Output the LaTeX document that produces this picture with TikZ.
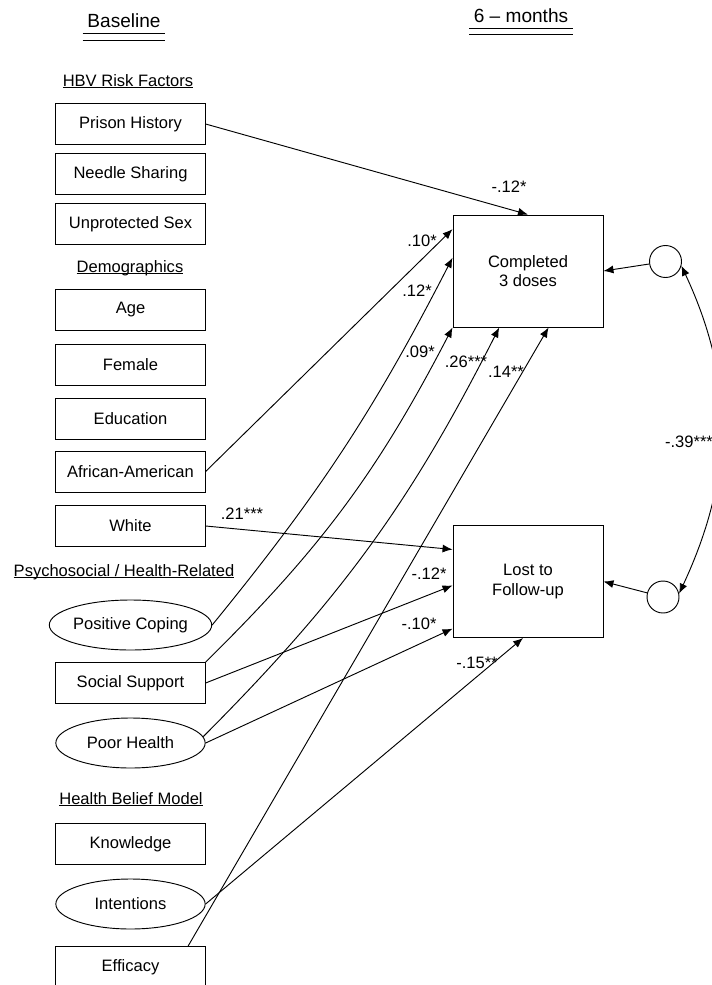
\documentclass[tikz,border=0pt]{standalone}
\usepackage{fontspec}
\setmainfont{Liberation Sans}
\usetikzlibrary{arrows.meta,shapes.geometric}
\newcommand{\sectul}[1]{\setbox0\hbox{#1}\rlap{\rule[-1.6pt]{\wd0}{0.6pt}}\box0}
\begin{document}
\begin{tikzpicture}[x=0.75pt,y=-0.75pt,>={Latex[length=7.5pt,width=6pt]},line width=0.7pt]
  \tikzstyle{varbox}=[draw, minimum width=112pt, minimum height=30.75pt, inner sep=0pt,
    font=\fontsize{12.4}{14.5}\selectfont]
  \tikzstyle{latvar}=[draw, ellipse, minimum width=112pt, minimum height=37.5pt, inner sep=0pt,
    font=\fontsize{12.4}{14.5}\selectfont]
  \tikzstyle{outbox}=[draw, minimum width=112.5pt, minimum height=84pt, align=center,
    font=\fontsize{12.4}{14.5}\selectfont]
  \tikzstyle{errc}=[draw, circle, minimum size=24pt, inner sep=0pt]
  \tikzstyle{coef}=[font=\fontsize{12.4}{14.5}\selectfont, inner sep=0pt]
  \tikzstyle{sect}=[font=\fontsize{12.4}{14.5}\selectfont, inner sep=0pt, anchor=base]
  \tikzstyle{hdr}=[font=\fontsize{14.3}{17}\selectfont, inner xsep=3.2pt, inner ysep=0pt]

  \useasboundingbox (0,0) rectangle (712,985);

  % Time headers
  \node[hdr] (hbase) at (124,21) {Baseline};
  \node[hdr] (hsix) at (521,16) {6 -- months};
  \draw ([yshift=-4.5pt]hbase.base west) -- ([yshift=-4.5pt]hbase.base east);
  \draw ([yshift=-9.75pt]hbase.base west) -- ([yshift=-9.75pt]hbase.base east);
  \draw ([yshift=-4.5pt]hsix.base west) -- ([yshift=-4.5pt]hsix.base east);
  \draw ([yshift=-9pt]hsix.base west) -- ([yshift=-9pt]hsix.base east);

  % Baseline predictors
  \node[sect] (shbv) at (128,86) {\sectul{HBV Risk Factors}};
  \node[varbox] (prison) at (130.5,124) {Prison History};
  \node[varbox] (needle) at (130.5,174) {Needle Sharing};
  \node[varbox] (unsex) at (130.5,224) {Unprotected Sex};
  \node[sect] (sdemo) at (130,272) {\sectul{Demographics}};
  \node[varbox] (age) at (130.5,310) {Age};
  \node[varbox] (female) at (130.5,364.5) {Female};
  \node[varbox] (educ) at (130.5,419) {Education};
  \node[varbox] (afram) at (130.5,471.5) {African-American};
  \node[varbox] (white) at (130.5,526) {White};
  \node[sect] (spsy) at (124,576) {\sectul{Psychosocial / Health-Related}};
  \node[latvar] (pcope) at (130.5,625) {Positive Coping};
  \node[varbox] (ssup) at (130.5,683) {Social Support};
  \node[latvar] (phealth) at (130.5,743) {Poor Health};
  \node[sect] (shbm) at (131,804) {\sectul{Health Belief Model}};
  \node[varbox] (know) at (130.5,844) {Knowledge};
  \node[latvar] (intent) at (130.5,904) {Intentions};
  \node[varbox] (effic) at (130.5,967) {Efficacy};

  % Outcomes and residuals
  \node[outbox] (compl) at (528,271) {Completed\\3 doses};
  \node[outbox] (lost) at (528,581.5) {Lost to\\Follow-up};
  \node[errc] (etop) at (665.5,261.5) {};
  \node[errc] (ebot) at (663,597) {};

  % Paths
  \draw[->] (prison.east) -- (compl.north);
  \draw[->] (afram.east) -- (compl.151);
  \draw[->] (pcope.east) to[bend right=6] (compl.170);
  \draw[->] (ssup.north east) to[bend right=9] (compl.south west);
  \draw[->] (phealth.5) to[bend right=9] (compl.243);
  \draw[->] (effic.20) -- (compl.290);
  \draw[->] (white.east) -- (lost.157);
  \draw[->] (ssup.east) -- (lost.183);
  \draw[->] (phealth.east) -- (lost.212);
  \draw[->] (intent.east) -- (lost.265);
  \draw[->] (etop) -- (compl.east);
  \draw[->] (ebot) -- (lost.east);
  \draw[<->] (etop.-15) to[out=-65,in=65] (ebot.12);

  % Coefficients
  \node[coef] (k1) at (509,187) {-.12*};
  \node[coef] (k2) at (422,241) {.10*};
  \node[coef] (k3) at (417,291) {.12*};
  \node[coef] (k4) at (420,352) {.09*};
  \node[coef] (k5) at (466,362) {.26***};
  \node[coef] (k6) at (506,372) {.14**};
  \node[coef] (k7) at (242,514) {.21***};
  \node[coef] (k8) at (429,574) {-.12*};
  \node[coef] (k9) at (419,624) {-.10*};
  \node[coef] (k10) at (477,663) {-.15**};
  \node[coef] (k11) at (689,442) {-.39***};
\end{tikzpicture}
\end{document}
